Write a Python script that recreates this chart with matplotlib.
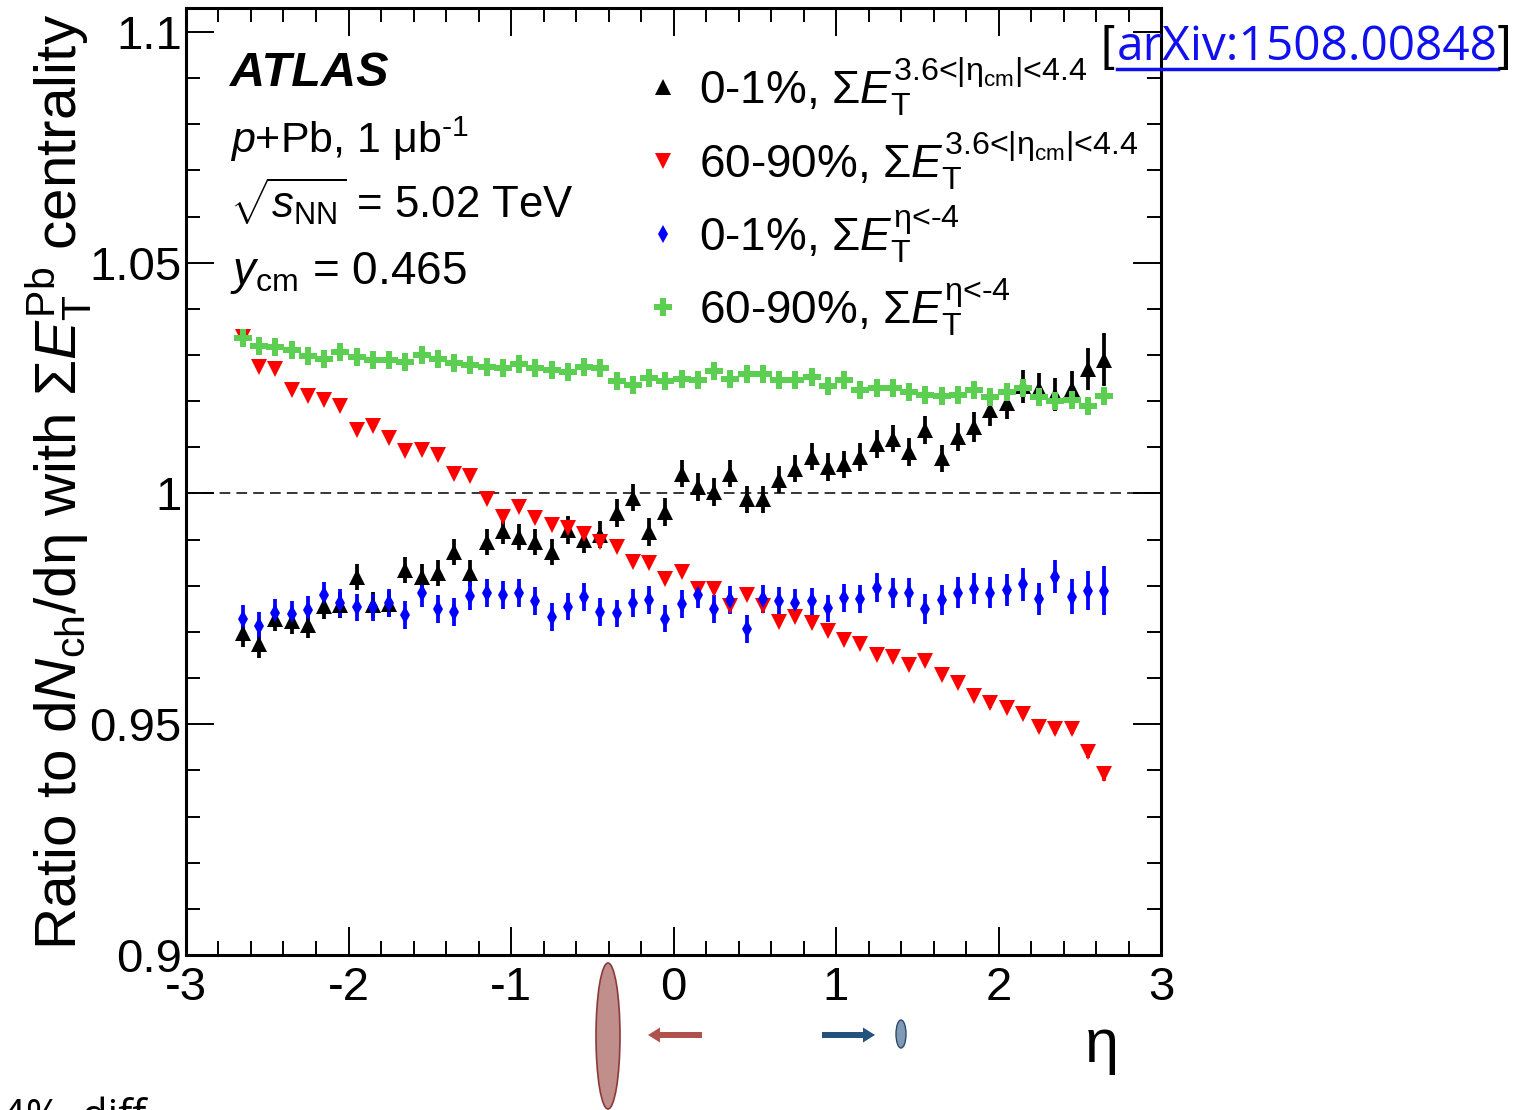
import matplotlib
matplotlib.use("Agg")
import matplotlib.pyplot as plt
from matplotlib.lines import Line2D
from matplotlib.patches import Ellipse, FancyArrow
from matplotlib.ticker import MultipleLocator

plt.rcParams['font.family'] = ['Liberation Sans', 'DejaVu Sans']
plt.rcParams['mathtext.fontset'] = 'custom'
plt.rcParams['mathtext.rm'] = 'Liberation Sans'
plt.rcParams['mathtext.it'] = 'Liberation Sans:italic'
plt.rcParams['mathtext.bf'] = 'Liberation Sans:bold'

# eta bin centres
eta = [-2.65, -2.55, -2.45, -2.35, -2.25, -2.15, -2.05, -1.95, -1.85, -1.75,
       -1.65, -1.55, -1.45, -1.35, -1.25, -1.15, -1.05, -0.95, -0.85, -0.75,
       -0.65, -0.55, -0.45, -0.35, -0.25, -0.15, -0.05, 0.05, 0.15, 0.25,
       0.35, 0.45, 0.55, 0.65, 0.75, 0.85, 0.95, 1.05, 1.15, 1.25,
       1.35, 1.45, 1.55, 1.65, 1.75, 1.85, 1.95, 2.05, 2.15, 2.25,
       2.35, 2.45, 2.55, 2.65]

# 0-1%, sum ET in 3.6<|eta_cm|<4.4
central_fcal = [0.9698, 0.9673, 0.9729, 0.9723, 0.9714, 0.9756, 0.9758, 0.9819, 0.9758, 0.9760,
                0.9834, 0.9820, 0.9828, 0.9874, 0.9828, 0.9895, 0.9918, 0.9906, 0.9895, 0.9874,
                0.9921, 0.9900, 0.9911, 0.9957, 0.9991, 0.9917, 0.9960, 1.0043, 1.0014, 1.0003,
                1.0043, 0.9987, 0.9987, 1.0030, 1.0054, 1.0080, 1.0058, 1.0063, 1.0079, 1.0108,
                1.0119, 1.0090, 1.0137, 1.0076, 1.0123, 1.0144, 1.0180, 1.0196, 1.0232, 1.0227,
                1.0214, 1.0227, 1.0270, 1.0290]
central_fcal_err = [0.0030, 0.0030, 0.0028, 0.0028, 0.0028, 0.0028, 0.0028, 0.0028, 0.0028, 0.0028,
                    0.0028, 0.0028, 0.0028, 0.0028, 0.0028, 0.0028, 0.0028, 0.0028, 0.0028, 0.0028,
                    0.0030, 0.0030, 0.0030, 0.0030, 0.0030, 0.0030, 0.0030, 0.0030, 0.0030, 0.0030,
                    0.0030, 0.0030, 0.0030, 0.0030, 0.0030, 0.0030, 0.0030, 0.0030, 0.0030, 0.0030,
                    0.0030, 0.0030, 0.0030, 0.0030, 0.0030, 0.0032, 0.0034, 0.0034, 0.0035, 0.0035,
                    0.0036, 0.0038, 0.0045, 0.0058]

# 60-90%, sum ET in 3.6<|eta_cm|<4.4
periph_fcal = [1.0340, 1.0274, 1.0270, 1.0224, 1.0211, 1.0202, 1.0189, 1.0137, 1.0146, 1.0120,
               1.0092, 1.0095, 1.0084, 1.0042, 1.0037, 0.9989, 0.9949, 0.9971, 0.9946, 0.9931,
               0.9925, 0.9913, 0.9895, 0.9885, 0.9852, 0.9850, 0.9815, 0.9830, 0.9792, 0.9793,
               0.9757, 0.9780, 0.9757, 0.9721, 0.9733, 0.9720, 0.9702, 0.9683, 0.9674, 0.9650,
               0.9645, 0.9628, 0.9637, 0.9606, 0.9589, 0.9561, 0.9545, 0.9536, 0.9522, 0.9493,
               0.9489, 0.9489, 0.9439, 0.9393]
periph_fcal_err = [0.0009, 0.0009, 0.0008, 0.0008, 0.0008, 0.0008, 0.0008, 0.0008, 0.0008, 0.0008,
                   0.0008, 0.0008, 0.0008, 0.0008, 0.0008, 0.0008, 0.0008, 0.0008, 0.0008, 0.0008,
                   0.0008, 0.0008, 0.0008, 0.0008, 0.0008, 0.0008, 0.0008, 0.0008, 0.0008, 0.0008,
                   0.0008, 0.0008, 0.0008, 0.0008, 0.0008, 0.0008, 0.0008, 0.0008, 0.0008, 0.0008,
                   0.0008, 0.0008, 0.0008, 0.0008, 0.0008, 0.0008, 0.0009, 0.0009, 0.0009, 0.0009,
                   0.0010, 0.0010, 0.0012, 0.0015]

# 0-1%, sum ET at eta<-4
central_pb = [0.9727, 0.9713, 0.9742, 0.9738, 0.9747, 0.9779, 0.9762, 0.9753, 0.9753, 0.9762,
              0.9737, 0.9785, 0.9749, 0.9743, 0.9778, 0.9784, 0.9780, 0.9785, 0.9767, 0.9732,
              0.9755, 0.9776, 0.9743, 0.9740, 0.9763, 0.9769, 0.9729, 0.9760, 0.9781, 0.9750,
              0.9769, 0.9706, 0.9772, 0.9767, 0.9762, 0.9766, 0.9751, 0.9774, 0.9771, 0.9796,
              0.9784, 0.9785, 0.9750, 0.9769, 0.9785, 0.9794, 0.9785, 0.9791, 0.9803, 0.9772,
              0.9820, 0.9776, 0.9789, 0.9789]
central_pb_err = [0.0032, 0.0030, 0.0030, 0.0030, 0.0030, 0.0030, 0.0030, 0.0030, 0.0030, 0.0030,
                  0.0030, 0.0030, 0.0030, 0.0030, 0.0030, 0.0030, 0.0030, 0.0030, 0.0030, 0.0030,
                  0.0030, 0.0030, 0.0030, 0.0030, 0.0030, 0.0030, 0.0030, 0.0030, 0.0030, 0.0030,
                  0.0030, 0.0030, 0.0030, 0.0030, 0.0030, 0.0030, 0.0030, 0.0030, 0.0030, 0.0032,
                  0.0032, 0.0032, 0.0032, 0.0032, 0.0033, 0.0033, 0.0034, 0.0034, 0.0035, 0.0035,
                  0.0036, 0.0038, 0.0042, 0.0053]

# 60-90%, sum ET at eta<-4
periph_pb = [1.0337, 1.0320, 1.0318, 1.0312, 1.0299, 1.0292, 1.0306, 1.0296, 1.0290, 1.0289,
             1.0285, 1.0300, 1.0292, 1.0283, 1.0279, 1.0274, 1.0273, 1.0281, 1.0272, 1.0268,
             1.0263, 1.0274, 1.0272, 1.0243, 1.0236, 1.0250, 1.0243, 1.0248, 1.0245, 1.0265,
             1.0248, 1.0259, 1.0258, 1.0247, 1.0247, 1.0252, 1.0232, 1.0245, 1.0224, 1.0229,
             1.0229, 1.0221, 1.0214, 1.0212, 1.0214, 1.0224, 1.0209, 1.0221, 1.0229, 1.0209,
             1.0200, 1.0203, 1.0189, 1.0211]
periph_pb_err = [0.0016, 0.0013, 0.0012, 0.0012, 0.0012, 0.0012, 0.0012, 0.0012, 0.0012, 0.0012,
                 0.0012, 0.0012, 0.0012, 0.0012, 0.0012, 0.0012, 0.0012, 0.0012, 0.0012, 0.0012,
                 0.0012, 0.0012, 0.0012, 0.0012, 0.0012, 0.0012, 0.0012, 0.0012, 0.0012, 0.0012,
                 0.0012, 0.0012, 0.0012, 0.0012, 0.0012, 0.0012, 0.0012, 0.0012, 0.0012, 0.0012,
                 0.0012, 0.0012, 0.0012, 0.0012, 0.0012, 0.0012, 0.0012, 0.0012, 0.0013, 0.0013,
                 0.0014, 0.0014, 0.0016, 0.0018]

legend_labels = [
    r"0-1%, Σ$E_{\rm T}^{\text{3.6<|η}_{\rm cm}\text{|<4.4}}$",
    r"60-90%, Σ$E_{\rm T}^{\text{3.6<|η}_{\rm cm}\text{|<4.4}}$",
    r"0-1%, Σ$E_{\rm T}^{\text{η<-4}}$",
    r"60-90%, Σ$E_{\rm T}^{\text{η<-4}}$",
]

x_ticks = [-3, -2, -1, 0, 1, 2, 3]
x_ticklabels = ["-3", "-2", "-1", "0", "1", "2", "3"]
y_ticks = [0.9, 0.95, 1.0, 1.05, 1.1]
y_ticklabels = ["0.9", "0.95", "1", "1.05", "1.1"]

W, H = 1522, 1110
fig = plt.figure(figsize=(W / 100, H / 100), dpi=100)
ax = fig.add_axes([186 / W, 1 - 955 / H, (1161 - 186) / W, (955 - 8) / H])

styles = [
    (central_fcal, central_fcal_err, '^', 'black', 12),
    (periph_fcal, periph_fcal_err, 'v', '#ff0000', 12),
    (central_pb, central_pb_err, 'd', '#0000ff', 9),
    (periph_pb, periph_pb_err, 'P', '#5ccf52', 12.5),
]
handles = []
for vals, errs, mk, col, ms in styles:
    c = ax.errorbar(eta, vals, yerr=errs, fmt=mk, color=col, ms=ms, mew=0,
                    elinewidth=2.7, capsize=0)
    handles.append(c[0])

ax.axhline(1.0, color='black', lw=1.1, dashes=(7, 4), zorder=0)

ax.set_xlim(-3, 3)
ax.set_ylim(0.9, 1.1052)
ax.set_xticks(x_ticks)
ax.set_xticklabels(x_ticklabels)
ax.set_yticks(y_ticks)
ax.set_yticklabels(y_ticklabels)
ax.xaxis.set_minor_locator(MultipleLocator(0.2))
ax.yaxis.set_minor_locator(MultipleLocator(0.01))
ax.tick_params(which='both', direction='in', top=True, right=True, width=1.4, labelsize=34)
ax.tick_params(which='major', length=20)
ax.tick_params(which='minor', length=10)
ax.tick_params(axis='x', pad=8)
ax.tick_params(axis='y', pad=3)
for s in ax.spines.values():
    s.set_linewidth(2.2)

ax.set_ylabel(r"Ratio to d$N_{\rm ch}$/dη with Σ$E_{\rm T}^{\rm Pb}$ centrality", fontsize=42)
ax.yaxis.set_label_coords(-0.094, 0.5)
ax.set_xlabel("η", fontsize=44)
ax.xaxis.set_label_coords(0.939, -0.066)

ax.text(0.045, 0.918, "ATLAS", transform=ax.transAxes, fontsize=35,
        fontweight='bold', fontstyle='italic', va='baseline')
ax.text(0.045, 0.847, r"$p$+Pb, 1 μb$^{\text{-1}}$", transform=ax.transAxes, fontsize=31, va='baseline')
ax.text(0.045, 0.778, r"$\sqrt{s_{\rm NN}}$ = 5.02 TeV", transform=ax.transAxes, fontsize=31.5, va='baseline')
ax.text(0.045, 0.709, r"$y_{\rm cm}$ = 0.465", transform=ax.transAxes, fontsize=33, va='baseline')

ax.legend(handles, legend_labels, loc='upper left', bbox_to_anchor=(0.456, 0.975),
          frameon=False, fontsize=33, handlelength=0.4, handletextpad=0.6,
          labelspacing=0.25, borderpad=0, numpoints=1)

# arXiv reference in the top-right corner
br1 = fig.text(1100 / W, 1 - 48 / H, "[", fontsize=35, va='center', color='black')
fig.canvas.draw()
r = fig.canvas.get_renderer()
bb = br1.get_window_extent(r)
link = fig.text(bb.x1 / W + 0.002, 1 - 47 / H, "arXiv:1508.00848", fontsize=34.5,
                family='Open Sans', color='#1010ee', va='center')
fig.canvas.draw()
lb = link.get_window_extent(r)
fig.text(lb.x1 / W, 1 - 48 / H, "]", fontsize=35, va='center', color='black')
fig.add_artist(Line2D([lb.x0 / W, lb.x1 / W], [1 - 69 / H, 1 - 69 / H],
                      transform=fig.transFigure, color='#1010ee', lw=2.5))

# slide annotations below the plot
tr = fig.dpi_scale_trans
fig.add_artist(Ellipse((6.08, 0.74), 0.24, 1.46, transform=tr,
                       facecolor='#c08e8b', edgecolor='#8b3a3a', lw=1.2))
fig.add_artist(FancyArrow(7.02, 0.75, -0.42, 0, width=0.06, head_width=0.15,
                          head_length=0.12, transform=tr, color='#b0514c', lw=0))
fig.add_artist(FancyArrow(8.22, 0.75, 0.41, 0, width=0.06, head_width=0.15,
                          head_length=0.12, transform=tr, color='#23527c', lw=0))
fig.add_artist(Ellipse((9.01, 0.76), 0.10, 0.28, transform=tr,
                       facecolor='#7f9ab5', edgecolor='#2a4a6a', lw=1.0))
fig.text(2 / W, 13 / H, "4%  diff", fontsize=30, family='Open Sans', va='top')

fig.savefig("out.png", dpi=100)
